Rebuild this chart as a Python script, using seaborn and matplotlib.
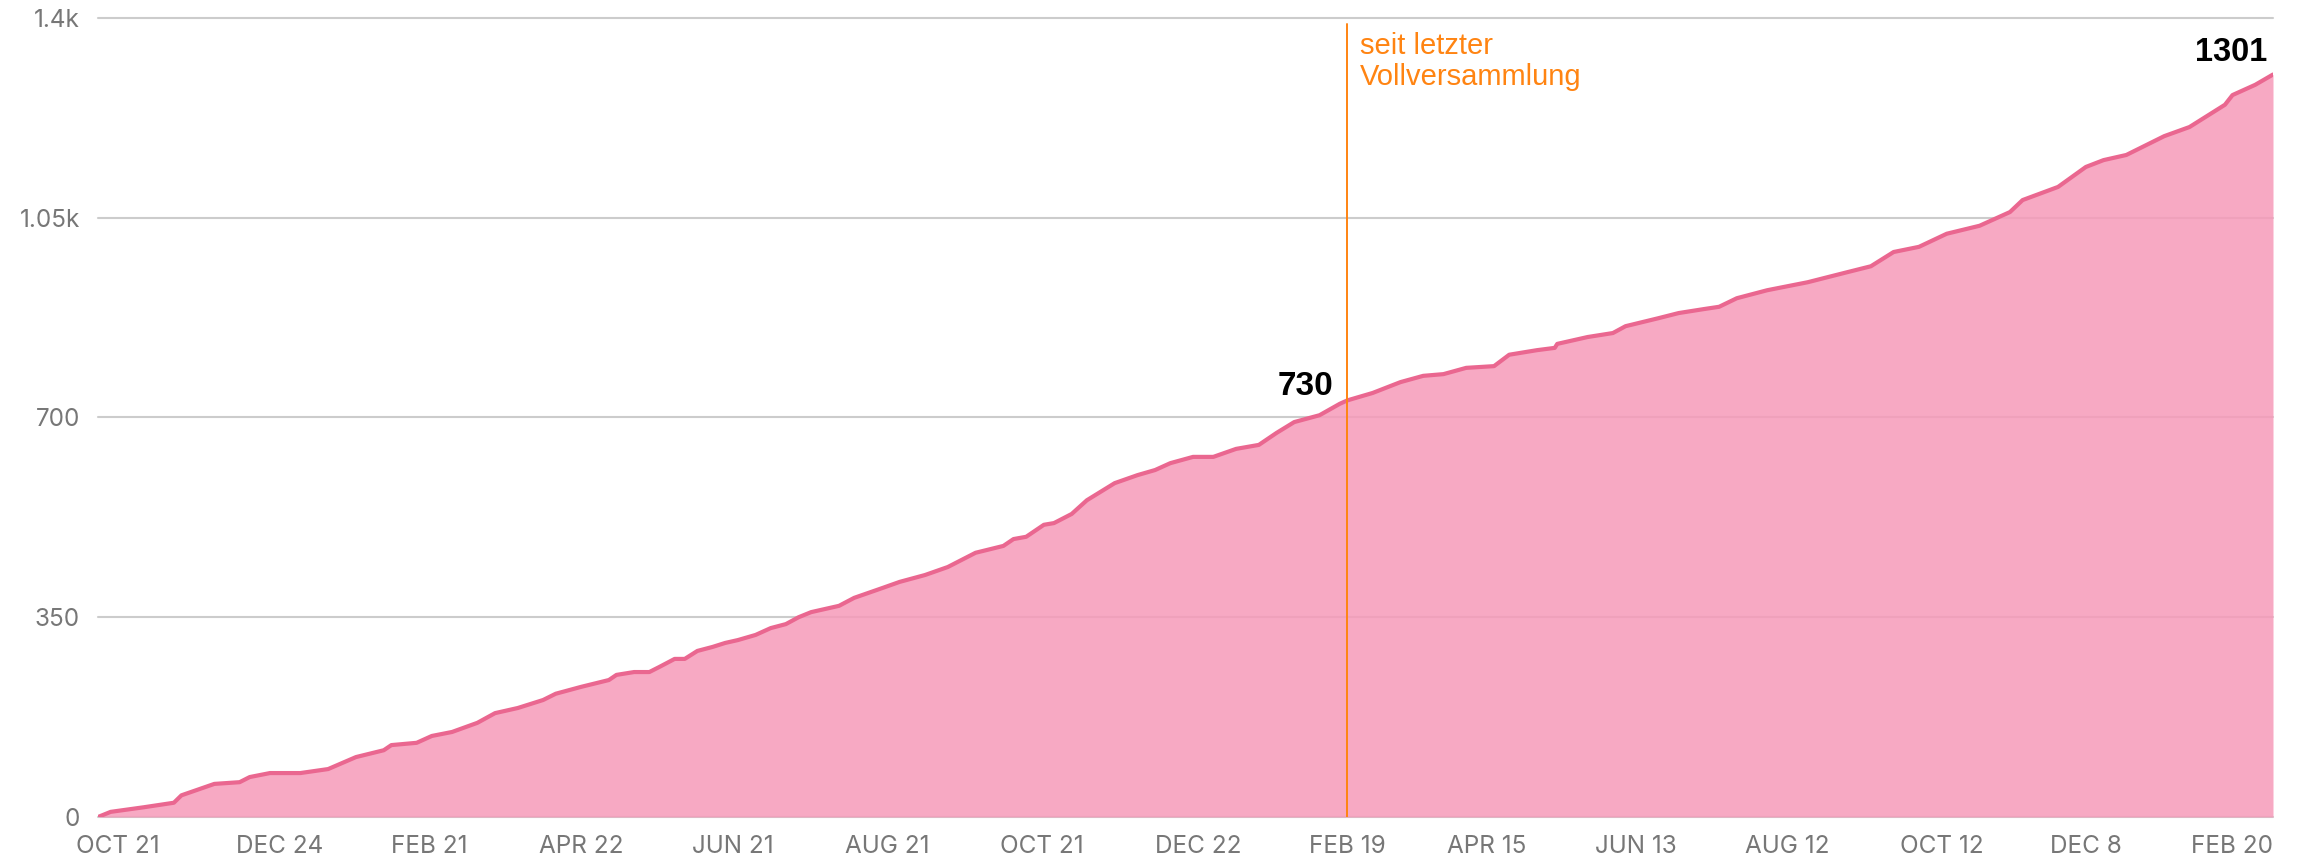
import pandas as pd
import matplotlib
matplotlib.use("Agg")
import matplotlib.pyplot as plt
import seaborn as sns

# ==============================================================================
# DATEN (kumulierte Anzahl)
# ==============================================================================
DATEN = [
    "2021-10-13", "2021-10-18", "2021-10-31", "2021-11-12", "2021-11-15", "2021-11-28",
    "2021-12-08", "2021-12-12", "2021-12-20", "2022-01-01", "2022-01-12", "2022-01-23",
    "2022-02-03", "2022-02-06", "2022-02-16", "2022-02-22", "2022-03-02", "2022-03-12",
    "2022-03-19", "2022-03-28", "2022-04-07", "2022-04-12", "2022-04-22", "2022-05-03",
    "2022-05-06", "2022-05-13", "2022-05-19", "2022-05-23", "2022-05-29", "2022-06-02",
    "2022-06-07", "2022-06-13", "2022-06-18", "2022-06-23", "2022-06-30", "2022-07-06",
    "2022-07-12", "2022-07-17", "2022-07-22", "2022-08-02", "2022-08-08", "2022-08-19",
    "2022-08-26", "2022-09-05", "2022-09-14", "2022-09-25", "2022-10-06", "2022-10-10",
    "2022-10-15", "2022-10-22", "2022-10-26", "2022-11-02", "2022-11-08", "2022-11-19",
    "2022-11-28", "2022-12-05", "2022-12-11", "2022-12-20", "2022-12-28", "2023-01-06",
    "2023-01-15", "2023-01-22", "2023-01-29", "2023-02-08", "2023-02-16", "2023-02-19",
    "2023-03-01", "2023-03-12", "2023-03-21", "2023-03-29", "2023-04-07", "2023-04-18",
    "2023-04-24", "2023-05-05", "2023-05-12", "2023-05-13", "2023-05-25", "2023-06-04",
    "2023-06-09", "2023-06-22", "2023-06-30", "2023-07-10", "2023-07-16", "2023-07-23",
    "2023-08-04", "2023-08-20", "2023-09-05", "2023-09-14", "2023-09-23", "2023-10-03",
    "2023-10-14", "2023-10-27", "2023-11-03", "2023-11-08", "2023-11-13", "2023-11-27",
    "2023-12-08", "2023-12-15", "2023-12-24", "2024-01-08", "2024-01-18", "2024-02-01",
    "2024-02-04", "2024-02-13", "2024-02-20",
]
WERTE = [
    0, 9, 17, 25, 38, 58,
    61, 70, 77, 77, 84, 105,
    117, 126, 130, 142, 149, 165,
    182, 191, 205, 216, 228, 240,
    249, 254, 254, 263, 277, 277,
    291, 298, 305, 310, 319, 331,
    338, 350, 359, 370, 384, 401,
    412, 424, 438, 463, 475, 487,
    491, 512, 515, 531, 555, 585,
    599, 608, 620, 631, 631, 645,
    652, 673, 692, 704, 724, 730,
    743, 762, 773, 776, 787, 790,
    810, 818, 822, 829, 841, 848,
    860, 874, 883, 890, 894, 909,
    923, 937, 955, 965, 990, 999,
    1022, 1036, 1050, 1060, 1081, 1104,
    1139, 1151, 1160, 1193, 1209, 1248,
    1265, 1283, 1301,
]

TICK_DATEN = [
    "2021-10-21", "2021-12-24", "2022-02-21", "2022-04-22", "2022-06-21", "2022-08-21",
    "2022-10-21", "2022-12-22", "2023-02-19", "2023-04-15", "2023-06-13", "2023-08-12",
    "2023-10-12", "2023-12-08", "2024-02-20",
]
TICK_LABELS = [
    "OCT 21", "DEC 24", "FEB 21", "APR 22", "JUN 21", "AUG 21",
    "OCT 21", "DEC 22", "FEB 19", "APR 15", "JUN 13", "AUG 12",
    "OCT 12", "DEC 8", "FEB 20",
]
Y_TICKS = [0, 350, 700, 1050, 1400]
Y_LABELS = ["0", "350", "700", "1.05k", "1.4k"]

VV_DATUM = "2023-02-19"
VV_TEXT = "seit letzter\nVollversammlung"

# ==============================================================================
# FARBEN
# ==============================================================================
LINIE = "#ea6790"
FLAECHE = "#f69ab9"
ORANGE = "#ff8412"
GRAU = "#777777"

df = pd.DataFrame({"datum": pd.to_datetime(DATEN), "wert": WERTE})

sns.set_theme(style="white")
plt.rcParams["font.family"] = ["Inter", "DejaVu Sans"]

fig = plt.figure(figsize=(23.02, 8.63), dpi=100)
ax = fig.add_axes([98 / 2302, 46 / 863, 2175 / 2302, 799 / 863])

ax.fill_between(df["datum"], df["wert"], 0, color=FLAECHE, alpha=0.85, lw=0, zorder=2)
sns.lineplot(data=df, x="datum", y="wert", ax=ax, color=LINIE, lw=3.0, zorder=3)

ax.set_xlim(df["datum"].iloc[0], df["datum"].iloc[-1])
ax.set_ylim(0, 1400)

ax.set_yticks(Y_TICKS)
ax.set_yticklabels(Y_LABELS)
ax.set_xticks(pd.to_datetime(TICK_DATEN))
ax.set_xticklabels(TICK_LABELS)
ax.get_xticklabels()[-1].set_horizontalalignment("right")

ax.tick_params(axis="both", length=0, colors=GRAU, labelsize=17.5)
ax.tick_params(axis="y", pad=13)
ax.tick_params(axis="x", pad=13)

ax.grid(axis="y", color="#cccccc", lw=1.5, zorder=1)
ax.grid(axis="x", visible=False)
for linie in ax.get_ygridlines():
    linie.set_clip_on(False)
ax.set_axisbelow(True)
sns.despine(ax=ax, left=True, bottom=True)
ax.set_xlabel("")
ax.set_ylabel("")

# Vollversammlung
vv = pd.to_datetime(VV_DATUM)
vv_wert = df.loc[df["datum"] == vv, "wert"].iloc[0]
ax.axvline(vv, ymin=0, ymax=0.9925, color=ORANGE, lw=1.4, zorder=4)
ax.annotate(VV_TEXT, xy=(vv, 1400), xytext=(9, -10), textcoords="offset points",
            ha="left", va="top", color=ORANGE, fontsize=21, linespacing=1.15,
            family=["Liberation Sans", "DejaVu Sans"])
ax.annotate(f"{vv_wert}", xy=(vv, vv_wert), xytext=(-10, 4), textcoords="offset points",
            ha="right", va="baseline", fontsize=24, fontweight="bold", color="black",
            family=["Liberation Sans", "DejaVu Sans"])

# Endwert
ax.annotate(f"{df['wert'].iloc[-1]}", xy=(df["datum"].iloc[-1], df["wert"].iloc[-1]),
            xytext=(-4, 10), textcoords="offset points", ha="right", va="baseline",
            fontsize=23.5, fontweight="bold", color="black",
            family=["Liberation Sans", "DejaVu Sans"])

fig.savefig("out.png", dpi=100, facecolor="white")
